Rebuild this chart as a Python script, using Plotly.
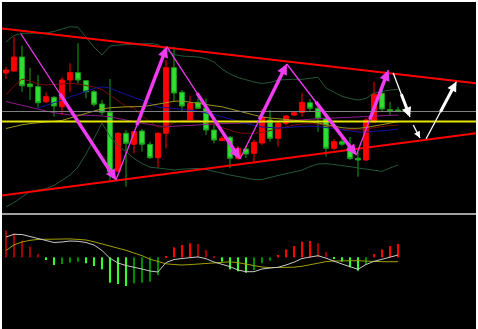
import plotly.graph_objects as go

# ---------------- data ----------------
idx = list(range(50))

opens = [177, 179, 193, 166, 163.3, 148.3, 152.7, 143.3, 170, 177.3,
         169.3, 158.3, 146, 137.7, 79, 116.7, 105.7, 119, 105.7, 92.3,
         116.7, 182.3, 157.7, 130, 147.7, 141.7, 120, 109.3, 112.7, 91.7,
         101, 96.7, 107, 130, 111.7, 126.7, 135, 137.5, 147.3, 141.7,
         131.7, 101.7, 108.3, 103, 91.7, 90, 128, 156.7, 140.5, 140]
highs = [183, 213, 204.3, 182.3, 175, 157.7, 154, 172.7, 186.7, 206.7,
         170, 160, 150, 171, 118, 120, 119, 121, 108.3, 118,
         190, 203.3, 160, 154.3, 151.7, 151.7, 128.3, 114, 114, 104,
         104, 110, 141, 140, 129, 135, 138.3, 156.7, 150.7, 143,
         134, 111, 111.7, 113, 98, 132, 168.3, 166.7, 148, 143.3]
lows = [171, 178.5, 158.3, 150, 142.3, 147, 133.3, 135, 158.3, 166.7,
        151.7, 143.3, 135, 70, 78, 63.3, 96.7, 98.3, 91, 82.3,
        101.7, 148.3, 139, 128.3, 141, 115, 106.7, 109, 81.7, 90,
        92, 86.7, 105, 108.3, 103.3, 125, 134, 133.3, 138.3, 118.3,
        93.5, 100, 104, 90, 73.3, 89, 127, 138, 135, 138.3]
closes = [180, 193, 164.3, 163.3, 147.3, 153.3, 144, 170, 177.3, 170,
          158.3, 145.7, 137.7, 78.3, 116.7, 106.7, 118.3, 105.7, 92.3, 116.7,
          182.3, 157, 144, 146.7, 141.7, 120, 110, 111.7, 91.7, 101.7,
          96, 107.7, 133, 111.7, 126.7, 134, 137.3, 147.7, 141.7, 131.7,
          101.7, 108.3, 105.8, 91.5, 90, 130, 156, 141, 138.5, 139]

band_upper = [208, 214.5, 216.7, 217, 217, 217, 218.5, 221, 223.3, 222.7,
              212.5, 203, 195, 204, 205, 205.3, 205.7, 206.2, 206.5, 205.5,
              200, 195.5, 194, 193.5, 193, 191.5, 188, 181, 176, 172.5,
              170, 168, 166.5, 167.5, 170, 170.5, 170.7, 170.7, 172, 172.7,
              162, 158, 153.7, 151.5, 150, 151.5, 157, 158.5, 160, 160.7]
band_lower = [43, 47.5, 53, 58.3, 60, 61.3, 64.5, 70, 75, 83,
              96, 111.3, 127, 113.5, 104.5, 98.5, 91.5, 86.5, 82.8, 82,
              80.8, 80, 80.8, 81.2, 81.6, 80.5, 78.5, 76.7, 75, 73.5,
              72, 70.5, 70.5, 72.7, 74.5, 76.3, 78, 79.8, 83.5, 86,
              86.4, 85.5, 84.7, 83.4, 82, 80.7, 79.3, 78.7, 82, 85]
ma_maroon = [155, 164, 171, 169, 166, 165, 165.5, 166.3, 166.7, 166,
             164.5, 163, 160.5, 155, 149.5, 143.7, 142, 134, 128.2, 123,
             123, 127.5, 129.7, 130, 129.7, 127.7, 125.2, 122, 119.5, 117.2,
             116.7, 116.7, 117.5, 119.5, 121.5, 123.5, 125, 126, 126.5, 126,
             124.5, 122.5, 120.5, 120, 120, 121, 122.5, 123.5, 124.5, 125]
ma_blue = [None, None, None, None, 142, 144.5, 147.5, 150, 153, 156,
           159, 161.5, 163.2, 162, 158.5, 155.5, 153, 149.7, 146.7, 143,
           142.4, 141.6, 140.7, 139.8, 138.8, 137, 135.5, 133.2, 131, 128.6,
           126.5, 124.5, 123, 122.5, 122, 122.5, 123, 123.5, 124, 123.5,
           122.5, 121.2, 120, 119, 118, 118, 118.5, 119, 120, 121]
ma_purple = [148.5, 146.5, 144.5, 142.5, 140.5, 139, 137.3, 135.8, 135, 135,
             135, 134.5, 134, 133.3, 131.5, 129.8, 128.2, 126.8, 125.5, 124,
             123.4, 123.7, 124.2, 124.7, 125, 125.7, 126.2, 126.7, 126.7, 126.7,
             126.9, 127.2, 127.6, 128, 128.7, 129.3, 130, 130.4, 130.8, 131.2,
             131.6, 132, 132.4, 132.8, 133.1, 133.5, 134, 134.3, 134.6, 135]
ma_olive = [121.5, 123.5, 125.2, 126.4, 127.5, 128.1, 128.6, 129.6, 132, 134.4,
            136.8, 139.2, 141.2, 142.2, 143, 143.2, 143.3, 143.5, 144.5, 146,
            147.8, 148.7, 149, 148, 146.6, 145.5, 144.3, 143.2, 141.2, 139,
            137, 134.5, 133, 132, 131.3, 130.4, 129.6, 128.9, 128.3, 127,
            125.4, 123.7, 122.3, 121.7, 121.7, 122.5, 124, 125.5, 127, 128.3]

level_gray = 138.5
level_yellow = 128.5

trend_x = [-0.75, 58.75]
trend_upper = [221.7, 166.7]
trend_lower = [54.3, 116.7]

zigzag_x = [1.875, 13.75, 20.1, 29.25, 35.1, 43.8, 47.8]
zigzag_v = [216, 70, 203.3, 91, 186, 95, 180]

proj_x0 = [48.4, 50.9, 52.5]
proj_v0 = [177, 125, 111]
proj_x1 = [50.5, 51.75, 56.3]
proj_v1 = [133, 112, 168.3]

hist = [26.6, 24, 16.6, 10.6, 3.3, -2.7, -7.7, -6.7, -5.4, -4.4,
        -6, -8.7, -12, -25.4, -26.7, -28.7, -26, -25.4, -24.4, -17.7,
        1.3, 10, 12.3, 14, 13.3, 7.3, 1.3, -4.4, -12, -14,
        -15.4, -12.7, -6, -3.4, 2.3, 8, 11.3, 15.6, 16.3, 14,
        5, -1.4, -4.4, -10, -13.4, -7.7, 3.3, 8, 11.3, 13.3]
sig_gray = [20.3, 23, 22.8, 20.8, 18.3, 16.3, 14.8, 15.3, 16.3, 16,
            14.8, 12.3, 6.8, -1, -5.7, -8.2, -9.7, -11.7, -13.7, -14.7,
            -5.2, -2.2, -1.2, -0.4, 0.4, -1.4, -4.7, -7, -9.4, -12.7,
            -14.4, -14.4, -11.7, -10.7, -10, -7.7, -4.9, -1.2, 0.3, 1.6,
            -0.9, -4.2, -6.7, -9.4, -12, -7.2, -4, -2, 0.3, 2.3]
sig_olive = [6.8, 12.5, 15.3, 17, 17.9, 18.1, 18.3, 18.5, 18.4, 17.9,
             17.3, 15.5, 13.5, 11.5, 9.5, 7, 4.3, 1.6, -1.9, -4.2,
             -6.5, -7.2, -7.7, -7.3, -6.8, -6.1, -5.3, -4.8, -4.5, -5.4,
             -7, -8.7, -9.7, -10.3, -10.4, -10.4, -9.9, -9, -7.5, -5.7,
             -4.3, -3.7, -3.4, -3.4, -3.4, -3.8, -4.3, -4.4, -4.4, -4.4]

# ---------------- figure ----------------
fig = go.Figure()

def line(x, y, color, width, ax="y", xa="x", dash=None):
    fig.add_trace(go.Scatter(x=x, y=y, mode="lines", xaxis=xa, yaxis=ax,
                             line=dict(color=color, width=width, dash=dash),
                             hoverinfo="skip", connectgaps=False))

# bollinger bands & moving averages
line(idx, band_upper, "#24573a", 1)
line(idx, band_lower, "#24573a", 1)
line(idx, ma_purple, "#8a1c8a", 1)
line(idx, ma_maroon, "#7a0c0c", 1)
line(idx, ma_blue, "#1414a0", 1)
line(idx, ma_olive, "#9c9420", 1)

# horizontal levels
line(trend_x, [level_gray, level_gray], "#808080", 1)
line(trend_x, [level_yellow, level_yellow], "#e6e600", 2)

fig.add_trace(go.Candlestick(
    x=idx, open=opens, high=highs, low=lows, close=closes,
    xaxis="x", yaxis="y", whiskerwidth=0,
    increasing=dict(line=dict(color="#ff0000", width=1), fillcolor="#ff0000"),
    decreasing=dict(line=dict(color="#1ca01c", width=1), fillcolor="#33dd33"),
    hoverinfo="skip"))

# trend lines
line(trend_x, trend_upper, "#ff0000", 2)
line(trend_x, trend_lower, "#ff0000", 2)

def arrow(x0, y0, x1, y1, color, thin, thick, frac, head):
    line([x0, x1], [y0, y1], color, thin)
    xa = x0 + frac * (x1 - x0)
    ya = y0 + frac * (y1 - y0)
    fig.add_annotation(x=x1, y=y1, ax=xa, ay=ya, xref="x", yref="y",
                       axref="x", ayref="y", text="", showarrow=True,
                       arrowhead=2, arrowsize=head, arrowwidth=thick,
                       arrowcolor=color, standoff=0, startstandoff=0)

for k in range(len(zigzag_x) - 1):
    arrow(zigzag_x[k], zigzag_v[k], zigzag_x[k + 1], zigzag_v[k + 1],
          "#f03cf0", 1.3, 3.5, 0.4, 0.6)

for k in range(len(proj_x0)):
    arrow(proj_x0[k], proj_v0[k], proj_x1[k], proj_v1[k], "#ffffff",
          1.3, 3 if k != 1 else 1.3, 0.45, 0.65 if k != 1 else 1.0)

# lower pane histogram
cols = []
for i, h in enumerate(hist):
    prev = hist[i - 1] if i > 0 else h + 1
    if h >= 0:
        cols.append("#ff0000" if h > prev else "#a00000")
    else:
        cols.append("#33ff33" if h < prev else "#008a00")
fig.add_trace(go.Bar(x=idx, y=hist, marker=dict(color=cols, line=dict(width=0)),
                     width=0.26, xaxis="x2", yaxis="y2", hoverinfo="skip"))
line(idx, sig_olive, "#a0a000", 1, ax="y2", xa="x2")
line(idx, sig_gray, "#c8c8c8", 1, ax="y2", xa="x2")

axis_common = dict(showgrid=False, zeroline=False, showticklabels=False,
                   ticks="", showline=False, fixedrange=True)
fig.update_layout(
    width=478, height=329,
    margin=dict(l=2, r=2, t=2, b=0),
    paper_bgcolor="#ffffff", plot_bgcolor="#000000",
    showlegend=False, boxgap=0.4, boxgroupgap=0,
    xaxis=dict(domain=[0, 1], range=[-0.5, 58.75], anchor="y", type="linear",
               rangeslider=dict(visible=False), **axis_common),
    yaxis=dict(domain=[117 / 327, 1], range=[38, 248], anchor="x", **axis_common),
    xaxis2=dict(domain=[0, 1], range=[-0.5, 58.75], anchor="y2", type="linear",
                **axis_common),
    yaxis2=dict(domain=[0, 113 / 327], range=[-71.7, 41.3], anchor="x2", **axis_common),
    shapes=[
        dict(type="rect", xref="paper", yref="paper", x0=0, x1=1, y0=0, y1=1,
             fillcolor="#000000", line=dict(width=0), layer="below"),
        dict(type="line", xref="paper", yref="paper", x0=0, x1=1,
             y0=115 / 327, y1=115 / 327, line=dict(color="#a0a0a0", width=2)),
    ],
)

fig.write_html("out.html")
